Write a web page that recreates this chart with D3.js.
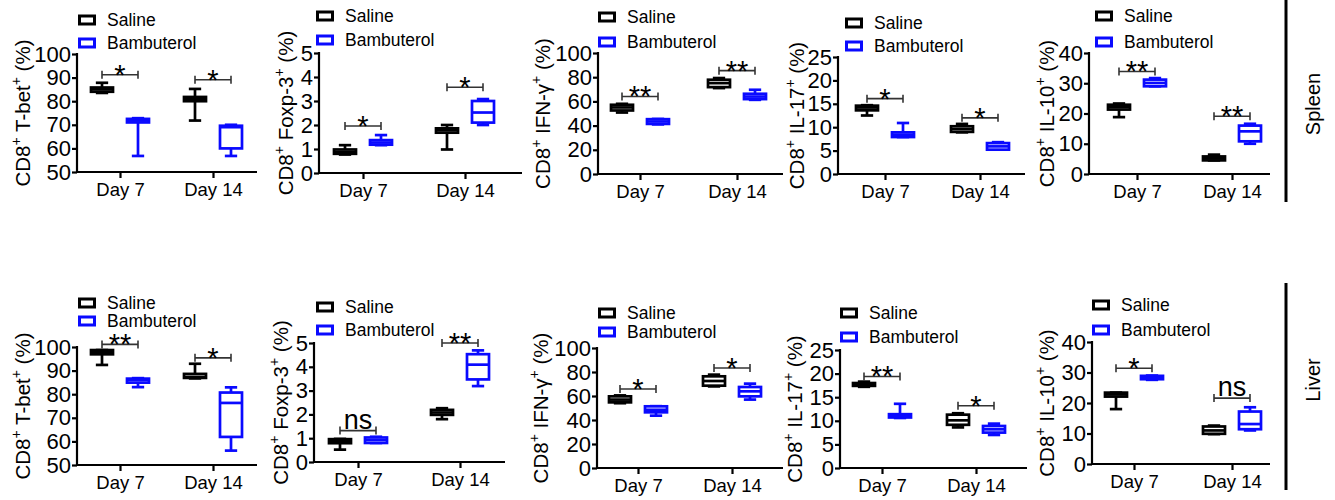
<!DOCTYPE html>
<html>
<head>
<meta charset="utf-8">
<script src="https://cdn.jsdelivr.net/npm/d3@7"></script>
<style>
  html, body { margin: 0; padding: 0; background: #fff; }
  svg { display: block; }
  text { font-family: "Liberation Sans", Arial, sans-serif; }
</style>
</head>
<body>
<svg id="chart" width="1335" height="500"></svg>
<script>
// ---------------- DATA ----------------
const days = ["Day 7", "Day 14"];
const groups = ["Saline", "Bambuterol"];
const tissues = ["Spleen", "Liver"];
const markers = ["T-bet", "Foxp-3", "IFN-\u03B3", "IL-17", "IL-10"];
const yDomains = [[50, 100], [0, 5], [0, 100], [0, 25], [0, 40]];
const yTickSteps = [10, 1, 20, 5, 10];

// box stats [min, q1, median, q3, max]
// order: Day 7 Saline, Day 7 Bambuterol, Day 14 Saline, Day 14 Bambuterol
const spleenTbet  = [[83.5, 84, 85, 85.8, 87.8], [56.8, 71, 71.8, 72.5, 72.8], [71.8, 80, 80.8, 81.8, 85.2], [56.8, 60, 69, 69.6, 70]];
const spleenFoxp3 = [[0.77, 0.8, 0.88, 0.98, 1.16], [1.16, 1.18, 1.27, 1.37, 1.58], [0.98, 1.68, 1.78, 1.86, 2.0], [2.0, 2.1, 2.52, 3.0, 3.08]];
const spleenIFNg  = [[50.8, 52.5, 55, 57.2, 58], [41, 41.4, 43.4, 45.3, 45.5], [71, 71.8, 75.1, 77.9, 79.3], [61.3, 61.9, 64, 66.3, 69.6]];
const spleenIL17  = [[12.5, 13.6, 14.2, 14.6, 14.7], [7.9, 7.9, 8.4, 8.9, 10.9], [8.9, 9.0, 9.6, 10.2, 10.7], [5.2, 5.2, 5.9, 6.6, 6.8]];
const spleenIL10  = [[18.8, 21.3, 22.1, 22.9, 23.3], [29, 29, 30.1, 31.2, 31.7], [4.5, 4.5, 5.2, 5.8, 6.4], [10, 10.8, 14.1, 16, 16.6]];

const liverTbet  = [[92.4, 96.9, 97.8, 98.7, 98.7], [83, 84.9, 86, 86.6, 86.8], [86.7, 86.9, 87.3, 88.6, 92.9], [56.1, 61.9, 76.3, 80.7, 82.9]];
const liverFoxp3 = [[0.52, 0.79, 0.88, 0.96, 0.97], [0.8, 0.8, 0.92, 1.03, 1.06], [1.8, 1.98, 2.08, 2.19, 2.26], [3.19, 3.47, 4.09, 4.53, 4.69]];
const liverIFNg  = [[54, 54.7, 57, 59.7, 60.5], [43.6, 46.4, 48.5, 51.4, 51.5], [68, 68.6, 72.5, 76.4, 77.8], [57, 59.7, 63.9, 67.5, 70.3]];
const liverIL17  = [[17.2, 17.4, 17.7, 18.0, 18.3], [10.6, 10.7, 11, 11.4, 13.6], [8.6, 9.15, 10.1, 11.3, 11.6], [7.0, 7.5, 8.2, 8.9, 9.4]];
const liverIL10  = [[18, 22.1, 22.8, 23.4, 23.4], [27.6, 27.8, 28.3, 28.9, 29], [9.8, 9.9, 11, 12.3, 12.6], [11.0, 11.4, 13.1, 17.2, 18.6]];

// significance [label, bracket value] for Day 7, Day 14
const spleenTbetSig  = [["*", 91.2], ["*", 89.1]];
const spleenFoxp3Sig = [["*", 1.96], ["*", 3.57]];
const spleenIFNgSig  = [["**", 64.1], ["**", 85.4]];
const spleenIL17Sig  = [["*", 16.1], ["*", 12.0]];
const spleenIL10Sig  = [["**", 33.9], ["**", 19.1]];
const liverTbetSig   = [["**", 101.1], ["*", 95.4]];
const liverFoxp3Sig  = [["ns", 1.32], ["**", 5.0]];
const liverIFNgSig   = [["*", 65.8], ["*", 83.3]];
const liverIL17Sig   = [["**", 19.4], ["*", 13.2]];
const liverIL10Sig   = [["*", 31.4], ["ns", 21.6]];

const boxData = [
  [spleenTbet, spleenFoxp3, spleenIFNg, spleenIL17, spleenIL10],
  [liverTbet, liverFoxp3, liverIFNg, liverIL17, liverIL10]
];
const sigData = [
  [spleenTbetSig, spleenFoxp3Sig, spleenIFNgSig, spleenIL17Sig, spleenIL10Sig],
  [liverTbetSig, liverFoxp3Sig, liverIFNgSig, liverIL17Sig, liverIL10Sig]
];

// ---------------- LAYOUT ----------------
const layouts = [
  [
    {x0: 77,   x1: 257,  d7: 120,  d14: 213,  yTop: 54,  yBot: 172, labelX: 30,   legX: 78,   legY1: 20,  legY2: 43},
    {x0: 319,  x1: 522,  d7: 363,  d14: 465,  yTop: 53,  yBot: 173, labelX: 293,  legX: 316,  legY1: 16,  legY2: 40},
    {x0: 598,  x1: 783,  d7: 640,  d14: 737,  yTop: 53,  yBot: 174, labelX: 550,  legX: 598,  legY1: 17,  legY2: 42},
    {x0: 838,  x1: 1025, d7: 885,  d14: 980,  yTop: 57,  yBot: 174, labelX: 804,  legX: 845,  legY1: 23,  legY2: 46},
    {x0: 1089, x1: 1270, d7: 1137, d14: 1232, yTop: 53,  yBot: 174, labelX: 1054, legX: 1095, legY1: 16,  legY2: 42}
  ],
  [
    {x0: 77,   x1: 257,  d7: 120,  d14: 213,  yTop: 347, yBot: 465, labelX: 30,   legX: 78,   legY1: 303, legY2: 321},
    {x0: 314,  x1: 505,  d7: 358,  d14: 460,  yTop: 343, yBot: 462, labelX: 288,  legX: 316,  legY1: 307, legY2: 330},
    {x0: 597,  x1: 783,  d7: 638,  d14: 732,  yTop: 348, yBot: 468, labelX: 548,  legX: 598,  legY1: 313, legY2: 332},
    {x0: 840,  x1: 1027, d7: 882,  d14: 976,  yTop: 350, yBot: 468, labelX: 802,  legX: 840,  legY1: 313, legY2: 337},
    {x0: 1092, x1: 1270, d7: 1134, d14: 1232, yTop: 342, yBot: 464, labelX: 1054, legX: 1092, legY1: 305, legY2: 330}
  ]
];
const tissueLabelPos = [{x: 1320, y: 104, lineTop: 0, lineBot: 202}, {x: 1320, y: 380, lineTop: 283, lineBot: 490}];

const color = d3.scaleOrdinal().domain(groups).range(["#000000", "#0a0aff"]);
const groupOffset = d3.scalePoint().domain(groups).range([-18, 18]);
const boxW = 22;
const FONT = "'Liberation Sans', Arial, sans-serif";

const svg = d3.select("#chart");
svg.append("rect").attr("width", 1335).attr("height", 500).attr("fill", "#fff");

function drawPanel(L, domain, step, boxes, sigs, marker) {
  const g = svg.append("g");
  const y = d3.scaleLinear().domain(domain).range([L.yBot, L.yTop]);
  const x = d3.scalePoint().domain(days).range([L.d7, L.d14]);

  // y axis
  const yAxis = d3.axisLeft(y)
    .tickValues(d3.range(domain[0], domain[1] + step / 2, step))
    .tickFormat(d3.format("d"))
    .tickSize(5).tickSizeOuter(0).tickPadding(1);
  const ya = g.append("g").attr("transform", `translate(${L.x0},0)`).call(yAxis);
  ya.select(".domain").remove();
  ya.selectAll(".tick line").attr("stroke", "#000").attr("stroke-width", 2.2);
  ya.selectAll(".tick text").attr("font-size", 22).attr("fill", "#000").attr("font-family", FONT);
  g.append("line").attr("x1", L.x0).attr("x2", L.x0).attr("y1", L.yTop - 1).attr("y2", L.yBot + 1)
    .attr("stroke", "#000").attr("stroke-width", 2.2);

  // x axis
  const xAxis = d3.axisBottom(x).tickSize(6).tickSizeOuter(0).tickPadding(5);
  const xa = g.append("g").attr("transform", `translate(0,${L.yBot})`).call(xAxis);
  xa.select(".domain").remove();
  xa.selectAll(".tick line").attr("stroke", "#000").attr("stroke-width", 2.2);
  xa.selectAll(".tick text").attr("font-size", 18.5).attr("fill", "#000").attr("font-family", FONT);
  g.append("line").attr("x1", L.x0 - 1).attr("x2", L.x1).attr("y1", L.yBot).attr("y2", L.yBot)
    .attr("stroke", "#000").attr("stroke-width", 2.2);

  // y label with superscripts
  const lab = g.append("text")
    .attr("transform", `translate(${L.labelX},${(L.yTop + L.yBot) / 2}) rotate(-90)`)
    .attr("text-anchor", "middle").attr("font-size", 20.5).attr("fill", "#000");
  lab.append("tspan").text("CD8");
  lab.append("tspan").text("+").attr("font-size", 14).attr("dy", -9);
  lab.append("tspan").text(" " + marker).attr("dy", 9);
  lab.append("tspan").text("+").attr("font-size", 14).attr("dy", -9);
  lab.append("tspan").text(" (%)").attr("dy", 9);

  // boxes
  days.forEach((day, i) => {
    groups.forEach((grp, j) => {
      const s = boxes[i * 2 + j];
      const cx = x(day) + groupOffset(grp);
      const c = color(grp);
      const bg = g.append("g").attr("stroke", c).attr("stroke-width", 2.7).attr("fill", "none");
      bg.append("line").attr("x1", cx).attr("x2", cx).attr("y1", y(s[0])).attr("y2", y(s[4]));
      bg.append("line").attr("x1", cx - boxW * 0.28).attr("x2", cx + boxW * 0.28).attr("y1", y(s[0])).attr("y2", y(s[0]));
      bg.append("line").attr("x1", cx - boxW * 0.28).attr("x2", cx + boxW * 0.28).attr("y1", y(s[4])).attr("y2", y(s[4]));
      bg.append("rect").attr("x", cx - boxW / 2).attr("width", boxW)
        .attr("y", y(s[3])).attr("height", Math.max(0.5, y(s[1]) - y(s[3]))).attr("fill", "#fff");
      bg.append("line").attr("x1", cx - boxW / 2).attr("x2", cx + boxW / 2).attr("y1", y(s[2])).attr("y2", y(s[2]));
    });
  });

  // significance brackets
  days.forEach((day, i) => {
    const [lbl, v] = sigs[i];
    const xa1 = x(day) + groupOffset(groups[0]);
    const xa2 = x(day) + groupOffset(groups[1]);
    const yb = y(v);
    const bg = g.append("g").attr("stroke", "#333").attr("stroke-width", 1.6);
    bg.append("line").attr("x1", xa1).attr("x2", xa2).attr("y1", yb).attr("y2", yb);
    bg.append("line").attr("x1", xa1).attr("x2", xa1).attr("y1", yb - 4).attr("y2", yb + 4);
    bg.append("line").attr("x1", xa2).attr("x2", xa2).attr("y1", yb - 4).attr("y2", yb + 4);
    const t = g.append("text").attr("x", (xa1 + xa2) / 2).attr("text-anchor", "middle").attr("fill", "#000").text(lbl);
    if (lbl === "ns") t.attr("y", yb - 2).attr("font-size", 27);
    else t.attr("y", yb + 10).attr("font-size", 29);
  });

  // legend
  groups.forEach((grp, j) => {
    const cy = j === 0 ? L.legY1 : L.legY2;
    g.append("rect").attr("x", L.legX + 1.5).attr("y", cy - 4).attr("width", 15).attr("height", 8)
      .attr("fill", "none").attr("stroke", color(grp)).attr("stroke-width", 3);
    g.append("text").attr("x", L.legX + 29).attr("y", cy + 6).attr("font-size", 17.5).attr("fill", "#000").text(grp);
  });
}

tissues.forEach((tissue, r) => {
  markers.forEach((m, k) => {
    drawPanel(layouts[r][k], yDomains[k], yTickSteps[k], boxData[r][k], sigData[r][k], m);
  });
  const P = tissueLabelPos[r];
  svg.append("line").attr("x1", 1286).attr("x2", 1286).attr("y1", P.lineTop).attr("y2", P.lineBot)
    .attr("stroke", "#000").attr("stroke-width", 3);
  svg.append("text").attr("transform", `translate(${P.x},${P.y}) rotate(-90)`)
    .attr("text-anchor", "middle").attr("font-size", 20).attr("fill", "#000").text(tissue);
});
</script>
</body>
</html>
